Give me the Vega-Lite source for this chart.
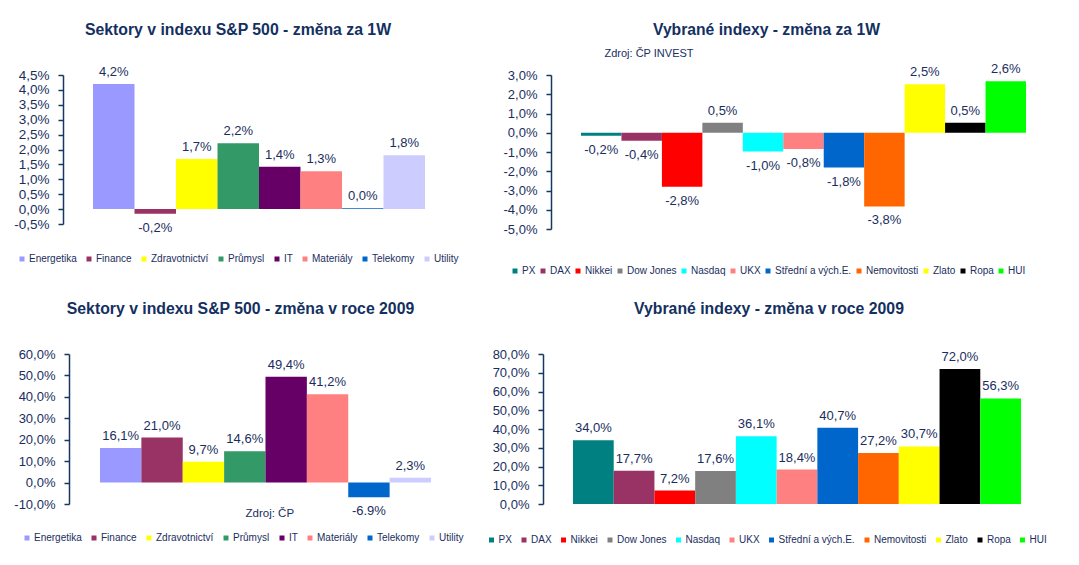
{
  "$schema": "https://vega.github.io/schema/vega-lite/v6.json",
  "background": "white",
  "padding": {"left": 13, "top": 22, "right": 5, "bottom": 5},
  "bounds": "flush",
  "columns": 2,
  "align": {"row": "all", "column": "none"},
  "spacing": {"row": 125, "column": 96},
  "resolve": {"scale": {"color": "independent", "x": "independent", "y": "independent"}, "legend": {"color": "independent"}},
  "concat": [
    {
      "width": 392,
      "height": 149,
      "title": {"text": "Sektory v indexu S&P 500 - změna za 1W", "anchor": "middle", "frame": "group", "dx": -21, "offset": 15, "baseline": "alphabetic", "fontSize": 15.8},
      "data": {"values": [
        {"sektor": "Energetika", "zmena": 4.2, "label": "4,2%"},
        {"sektor": "Finance", "zmena": -0.16, "label": "-0,2%"},
        {"sektor": "Zdravotnictví", "zmena": 1.68, "label": "1,7%"},
        {"sektor": "Průmysl", "zmena": 2.21, "label": "2,2%"},
        {"sektor": "IT", "zmena": 1.42, "label": "1,4%"},
        {"sektor": "Materiály", "zmena": 1.27, "label": "1,3%"},
        {"sektor": "Telekomy", "zmena": 0.03, "label": "0,0%"},
        {"sektor": "Utility", "zmena": 1.81, "label": "1,8%"}
      ]},
      "encoding": {
        "x": {"field": "sektor", "type": "nominal", "sort": ["Energetika", "Finance", "Zdravotnictví", "Průmysl", "IT", "Materiály", "Telekomy", "Utility"], "scale": {"paddingInner": 0, "paddingOuter": 0.723}, "axis": null},
        "y": {"field": "zmena", "type": "quantitative", "scale": {"domain": [-0.5, 4.5], "nice": false, "zero": false}, "axis": {"values": [-0.5, 0, 0.5, 1, 1.5, 2, 2.5, 3, 3.5, 4, 4.5], "format": ".1f", "labelExpr": "datum.label + '%'", "title": null, "labelFontSize": 13.5}}
      },
      "layer": [
        {"mark": {"type": "bar"}, "encoding": {"color": {"field": "sektor", "type": "nominal", "scale": {"domain": ["Energetika", "Finance", "Zdravotnictví", "Průmysl", "IT", "Materiály", "Telekomy", "Utility"], "range": ["#9999FF", "#993366", "#FFFF00", "#339966", "#660066", "#FF8080", "#0066CC", "#CCCCFF"]}, "legend": {"orient": "none", "legendX": -46, "legendY": 179, "direction": "horizontal", "columns": 8, "columnPadding": 7, "title": null}}}},
        {"transform": [{"filter": "datum.zmena >= 0"}], "mark": {"type": "text", "baseline": "alphabetic", "dy": -8}, "encoding": {"text": {"field": "label"}}},
        {"transform": [{"filter": "datum.zmena < 0"}], "mark": {"type": "text", "baseline": "top", "dy": 8}, "encoding": {"text": {"field": "label"}}}
      ]
    },
    {
      "width": 505,
      "height": 154,
      "title": {"text": "Vybrané indexy - změna za 1W", "anchor": "middle", "frame": "group", "dx": -37, "offset": -4, "baseline": "alphabetic", "fontSize": 15.7},
      "data": {"values": [
        {"index": "PX", "zmena": -0.16, "label": "-0,2%"},
        {"index": "DAX", "zmena": -0.41, "label": "-0,4%"},
        {"index": "Nikkei", "zmena": -2.8, "label": "-2,8%"},
        {"index": "Dow Jones", "zmena": 0.52, "label": "0,5%"},
        {"index": "Nasdaq", "zmena": -0.98, "label": "-1,0%"},
        {"index": "UKX", "zmena": -0.84, "label": "-0,8%"},
        {"index": "Střední a vých.E.", "zmena": -1.81, "label": "-1,8%"},
        {"index": "Nemovitosti", "zmena": -3.83, "label": "-3,8%"},
        {"index": "Zlato", "zmena": 2.52, "label": "2,5%"},
        {"index": "Ropa", "zmena": 0.52, "label": "0,5%"},
        {"index": "HUI", "zmena": 2.67, "label": "2,6%"}
      ]},
      "encoding": {
        "x": {"field": "index", "type": "nominal", "sort": ["PX", "DAX", "Nikkei", "Dow Jones", "Nasdaq", "UKX", "Střední a vých.E.", "Nemovitosti", "Zlato", "Ropa", "HUI"], "scale": {"paddingInner": 0, "paddingOuter": 0.742}, "axis": null},
        "y": {"field": "zmena", "type": "quantitative", "scale": {"domain": [-5, 3], "nice": false, "zero": false}, "axis": {"values": [-5, -4, -3, -2, -1, 0, 1, 2, 3], "format": ".1f", "labelExpr": "datum.label + '%'", "title": "Zdroj: ČP INVEST", "titleAngle": 0, "titleAlign": "left", "titleBaseline": "alphabetic", "titleX": 53, "titleY": -19, "titleFontSize": 11, "titleFontWeight": "normal"}}
      },
      "layer": [
        {"mark": {"type": "bar"}, "encoding": {"color": {"field": "index", "type": "nominal", "scale": {"domain": ["PX", "DAX", "Nikkei", "Dow Jones", "Nasdaq", "UKX", "Střední a vých.E.", "Nemovitosti", "Zlato", "Ropa", "HUI"], "range": ["#008080", "#993366", "#FF0000", "#808080", "#00FFFF", "#FF8080", "#0066CC", "#FF6600", "#FFFF00", "#000000", "#00FF00"]}, "legend": {"orient": "none", "legendX": -41, "legendY": 191, "direction": "horizontal", "columns": 11, "columnPadding": 2, "title": null}}}},
        {"transform": [{"filter": "datum.zmena >= 0"}], "mark": {"type": "text", "baseline": "alphabetic", "dy": -8}, "encoding": {"text": {"field": "label"}}},
        {"transform": [{"filter": "datum.zmena < 0"}], "mark": {"type": "text", "baseline": "top", "dy": 8}, "encoding": {"text": {"field": "label"}}}
      ]
    },
    {
      "width": 384,
      "height": 150,
      "title": {"text": "Sektory v indexu S&P 500 - změna v roce 2009", "anchor": "middle", "frame": "group", "dx": -14.5, "offset": 18, "baseline": "alphabetic", "fontSize": 15.8},
      "data": {"values": [
        {"sektor": "Energetika", "zmena": 16.1, "label": "16,1%"},
        {"sektor": "Finance", "zmena": 21.0, "label": "21,0%"},
        {"sektor": "Zdravotnictví", "zmena": 9.7, "label": "9,7%"},
        {"sektor": "Průmysl", "zmena": 14.6, "label": "14,6%"},
        {"sektor": "IT", "zmena": 49.4, "label": "49,4%"},
        {"sektor": "Materiály", "zmena": 41.2, "label": "41,2%"},
        {"sektor": "Telekomy", "zmena": -6.9, "label": "-6.9%"},
        {"sektor": "Utility", "zmena": 2.3, "label": "2,3%"}
      ]},
      "encoding": {
        "x": {"field": "sektor", "type": "nominal", "sort": ["Energetika", "Finance", "Zdravotnictví", "Průmysl", "IT", "Materiály", "Telekomy", "Utility"], "scale": {"paddingInner": 0, "paddingOuter": 0.6405, "align": 0.698}, "axis": {"orient": "bottom", "domain": false, "ticks": false, "labels": false, "title": "Zdroj: ČP", "titleAngle": 0, "titleAlign": "left", "titleBaseline": "alphabetic", "titleX": 182, "titleY": 12, "titleFontSize": 11.5, "titleFontWeight": "normal"}},
        "y": {"field": "zmena", "type": "quantitative", "scale": {"domain": [-10, 60], "nice": false, "zero": false}, "axis": {"values": [-10, 0, 10, 20, 30, 40, 50, 60], "format": ".1f", "labelExpr": "datum.label + '%'", "title": null, "offset": -6}}
      },
      "layer": [
        {"mark": {"type": "bar"}, "encoding": {"color": {"field": "sektor", "type": "nominal", "scale": {"domain": ["Energetika", "Finance", "Zdravotnictví", "Průmysl", "IT", "Materiály", "Telekomy", "Utility"], "range": ["#9999FF", "#993366", "#FFFF00", "#339966", "#660066", "#FF8080", "#0066CC", "#CCCCFF"]}, "legend": {"orient": "none", "legendX": -41, "legendY": 179, "direction": "horizontal", "columns": 8, "columnPadding": 7, "title": null}}}},
        {"transform": [{"filter": "datum.zmena >= 0"}], "mark": {"type": "text", "baseline": "alphabetic", "dy": -8}, "encoding": {"text": {"field": "label"}}},
        {"transform": [{"filter": "datum.zmena < 0"}], "mark": {"type": "text", "baseline": "top", "dy": 8}, "encoding": {"text": {"field": "label"}}}
      ]
    },
    {
      "width": 500,
      "height": 150,
      "title": {"text": "Vybrané indexy - změna v roce 2009", "anchor": "middle", "frame": "group", "dx": -32, "offset": 18, "baseline": "alphabetic", "fontSize": 15.8},
      "data": {"values": [
        {"index": "PX", "zmena": 34.0, "label": "34,0%"},
        {"index": "DAX", "zmena": 17.7, "label": "17,7%"},
        {"index": "Nikkei", "zmena": 7.2, "label": "7,2%"},
        {"index": "Dow Jones", "zmena": 17.6, "label": "17,6%"},
        {"index": "Nasdaq", "zmena": 36.1, "label": "36,1%"},
        {"index": "UKX", "zmena": 18.4, "label": "18,4%"},
        {"index": "Střední a vých.E.", "zmena": 40.7, "label": "40,7%"},
        {"index": "Nemovitosti", "zmena": 27.2, "label": "27,2%"},
        {"index": "Zlato", "zmena": 30.7, "label": "30,7%"},
        {"index": "Ropa", "zmena": 72.0, "label": "72,0%"},
        {"index": "HUI", "zmena": 56.3, "label": "56,3%"}
      ]},
      "encoding": {
        "x": {"field": "index", "type": "nominal", "sort": ["PX", "DAX", "Nikkei", "Dow Jones", "Nasdaq", "UKX", "Střední a vých.E.", "Nemovitosti", "Zlato", "Ropa", "HUI"], "scale": {"paddingInner": 0, "paddingOuter": 0.638, "align": 0.423}, "axis": null},
        "y": {"field": "zmena", "type": "quantitative", "scale": {"domain": [0, 80], "nice": false, "zero": false}, "axis": {"values": [0, 10, 20, 30, 40, 50, 60, 70, 80], "format": ".1f", "labelExpr": "datum.label + '%'", "title": null, "offset": 8}}
      },
      "layer": [
        {"mark": {"type": "bar"}, "encoding": {"color": {"field": "index", "type": "nominal", "scale": {"domain": ["PX", "DAX", "Nikkei", "Dow Jones", "Nasdaq", "UKX", "Střední a vých.E.", "Nemovitosti", "Zlato", "Ropa", "HUI"], "range": ["#008080", "#993366", "#FF0000", "#808080", "#00FFFF", "#FF8080", "#0066CC", "#FF6600", "#FFFF00", "#000000", "#00FF00"]}, "legend": {"orient": "none", "legendX": -64.5, "legendY": 181, "direction": "horizontal", "columns": 11, "columnPadding": 6.5, "title": null}}}},
        {"transform": [{"filter": "datum.zmena >= 0"}], "mark": {"type": "text", "baseline": "alphabetic", "dy": -8}, "encoding": {"text": {"field": "label"}}}
      ]
    }
  ],
  "config": {
    "locale": {"number": {"decimal": ",", "thousands": " ", "grouping": [3], "currency": ["", " Kč"], "minus": "-"}},
    "font": "Liberation Sans",
    "view": {"stroke": null},
    "title": {"font": "Liberation Sans", "fontWeight": "bold", "color": "#14305F"},
    "text": {"font": "Liberation Sans", "fontSize": 13, "color": "#1A2E5E", "align": "center"},
    "bar": {"stroke": null},
    "axis": {"grid": false, "domainColor": "#17375E", "domainWidth": 1.5, "tickColor": "#17375E", "tickWidth": 1.5, "tickSize": 5, "labelPadding": 9, "labelFont": "Liberation Sans", "labelFontSize": 13, "labelColor": "#1A2E5E", "titleFont": "Liberation Sans", "titleColor": "#1A2E5E"},
    "legend": {"symbolType": "square", "symbolSize": 25, "symbolStrokeWidth": 0, "labelFont": "Liberation Sans", "labelFontSize": 10, "labelColor": "#1A2E5E", "labelOffset": 2, "padding": 0, "rowPadding": 0, "labelLimit": 0}
  }
}
